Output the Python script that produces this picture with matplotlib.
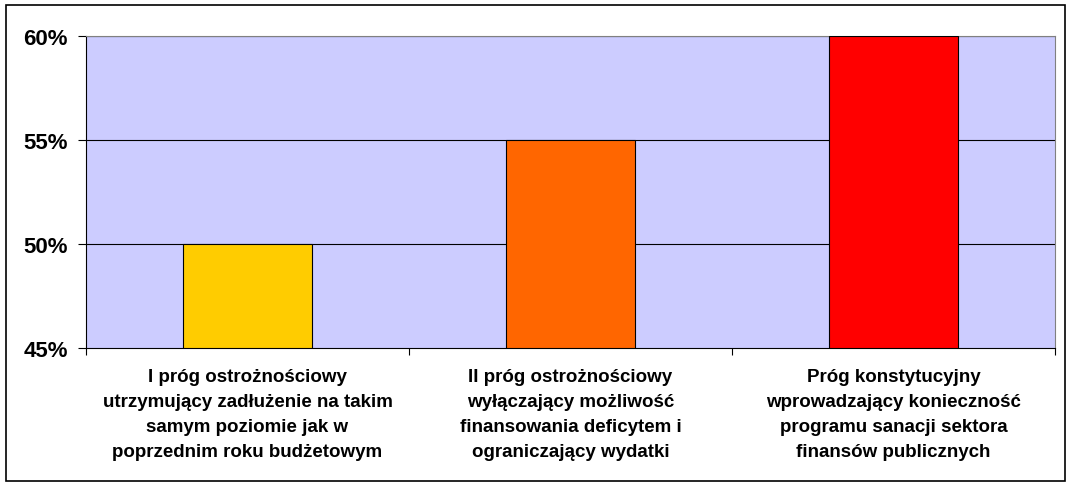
import matplotlib
matplotlib.use("Agg")
import matplotlib.pyplot as plt
from matplotlib.patches import Rectangle
from matplotlib.ticker import FixedLocator, NullFormatter

categories = [
    "I próg ostrożnościowy\nutrzymujący zadłużenie na takim\nsamym poziomie jak w\npoprzednim roku budżetowym",
    "II próg ostrożnościowy\nwyłączający możliwość\nfinansowania deficytem i\nograniczający wydatki",
    "Próg konstytucyjny\nwprowadzający konieczność\nprogramu sanacji sektora\nfinansów publicznych",
]
values = [50, 55, 60]
colors = ["#FFCC00", "#FF6600", "#FF0000"]
yticks = [45, 50, 55, 60]
ytick_labels = ["45%", "50%", "55%", "60%"]

plt.rcParams['font.family'] = ['Liberation Sans', 'DejaVu Sans']

fig = plt.figure(figsize=(10.73, 4.89), dpi=100)
fig.patches.append(Rectangle((6/1073, 1 - 482/489), (1065-6)/1073, (482-6)/489,
                             transform=fig.transFigure, fill=False, edgecolor='black', linewidth=1.2))
ax = fig.add_axes([86/1073, 1 - 349/489, (1055-86)/1073, (349-37)/489])
ax.set_facecolor("#CCCCFF")

x = list(range(len(categories)))
ax.bar(x, [v - 45 for v in values], bottom=45, width=0.4, color=colors,
       edgecolor='black', linewidth=0.8, zorder=3)

ax.set_xlim(-0.5, 2.5)
ax.set_ylim(45, 60)
ax.set_yticks(yticks)
ax.set_yticklabels(ytick_labels, fontsize=16, fontweight='bold')
for y in yticks[1:]:
    ax.axhline(y, color='black', linewidth=0.8, zorder=2)

ax.xaxis.set_major_locator(FixedLocator([-0.5, 0.5, 1.5, 2.5]))
ax.xaxis.set_major_formatter(NullFormatter())
ax.tick_params(axis='x', direction='out', length=5, width=0.8)
ax.tick_params(axis='y', direction='out', length=6, width=0.8, pad=7)

for i, c in enumerate(categories):
    ax.text(i, -0.065, c, transform=ax.get_xaxis_transform(), ha='center', va='top',
            fontsize=13.5, fontweight='bold', linespacing=1.6)

for s in ['top', 'right']:
    ax.spines[s].set_color('#808080')
for s in ['left', 'bottom']:
    ax.spines[s].set_color('black')
for s in ax.spines.values():
    s.set_linewidth(0.8)

fig.savefig("out.png", dpi=100)
